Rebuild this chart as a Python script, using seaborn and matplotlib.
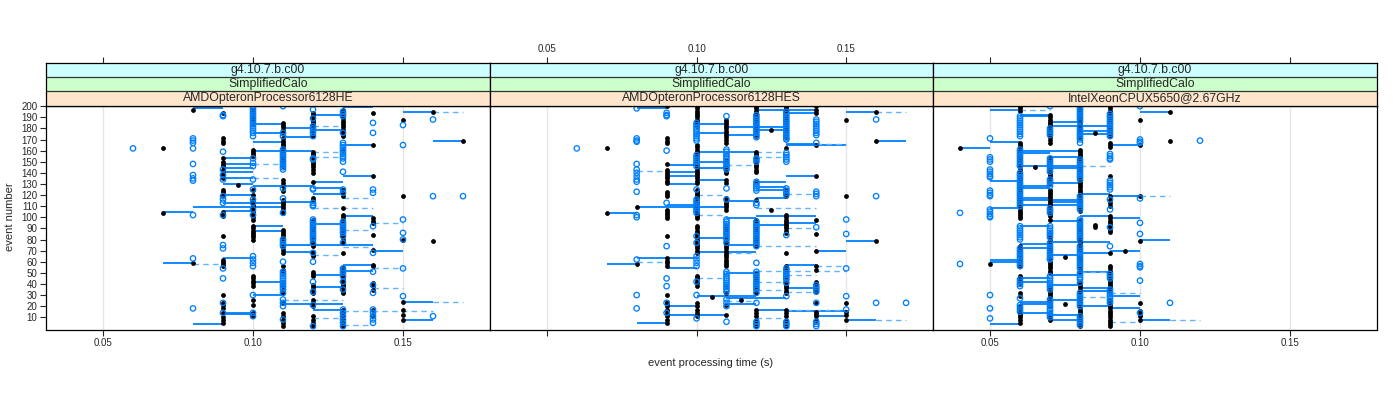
import matplotlib
matplotlib.use("Agg")
import pandas as pd
import matplotlib.pyplot as plt
import seaborn as sns

# strip labels (outer to inner)
version = "g4.10.7.b.c00"
test_name = "SimplifiedCalo"
cpus = ["AMDOpteronProcessor6128HE", "AMDOpteronProcessor6128HES", "IntelXeonCPUX5650@2.67GHz"]

x_ticks = [0.05, 0.10, 0.15]
y_ticks = [10, 20, 30, 40, 50, 60, 70, 80, 90, 100, 110, 120, 130, 140, 150, 160, 170, 180, 190, 200]

### values: time (1/100 s) -> event numbers ###
p1_black = {
    7: [162, 104],
    8: [197, 59],
    9: [194, 171, 169, 167, 153, 150, 148, 146, 143, 141, 139, 137, 135, 125, 123, 120, 105, 103, 101, 83,
        62, 60, 58, 56, 30, 23, 21, 18, 14, 10, 8, 5],
    9.5: [129],
    10: [197, 195, 192, 190, 188, 184, 161, 159, 157, 155, 125, 120, 116, 114, 112, 110, 108, 106, 104, 102,
         100, 98, 92, 90, 88, 86, 84, 82, 80, 47, 45, 43, 41, 38, 26, 21, 14, 11],
    11: [185, 183, 181, 179, 176, 171, 169, 167, 165, 163, 161, 159, 157, 155, 153, 151, 149, 146, 134, 131,
         128, 124, 116, 114, 112, 110, 108, 106, 104, 89, 87, 85, 83, 81, 79, 77, 75, 73, 71, 68, 56, 53, 50,
         41, 38, 35, 32, 23, 14, 11, 8, 5, 2],
    12: [194, 192, 190, 188, 186, 184, 182, 180, 178, 176, 173, 159, 157, 155, 153, 151, 149, 147, 145, 143,
         140, 132, 117, 116, 98, 96, 94, 92, 90, 88, 86, 84, 82, 80, 78, 76, 74, 69, 67, 65, 51, 49, 47, 39,
         37, 35, 32, 26, 23, 20, 11, 8, 5, 2],
    13: [197, 195, 193, 191, 189, 187, 185, 183, 181, 179, 177, 175, 173, 161, 125, 122, 119, 108, 102, 100,
         98, 96, 94, 92, 90, 88, 86, 84, 82, 80, 77, 68, 54, 52, 50, 48, 46, 44, 42, 40, 38, 36, 34, 32, 17,
         14, 11, 8, 5, 2],
    14: [194, 165, 137, 99, 97, 95, 84, 71, 57, 56, 41, 38, 35, 17, 11],
    15: [188, 119, 80, 24, 17, 12, 8],
    16: [195, 79],
    17: [169],
}
p1_blue = {
    6: [162],
    8: [171, 169, 167, 162, 148, 138, 135, 133, 102, 63, 18],
    9: [192, 191, 159, 143, 138, 134, 119, 116, 113, 102, 75, 72, 54, 45, 23, 14],
    10: [200, 198, 196, 194, 192, 190, 188, 186, 184, 182, 180, 178, 176, 173, 153, 149, 146, 134, 125, 116,
         113, 107, 102, 65, 62, 59, 56, 30, 14, 11],
    11: [200, 176, 173, 161, 159, 157, 155, 153, 151, 149, 147, 145, 143, 126, 117, 104, 80, 78, 76, 74, 60,
         51, 49, 47, 45, 43, 41, 39, 37, 35, 32, 26, 23, 20, 8],
    12: [197, 189, 182, 180, 178, 176, 173, 153, 152, 126, 125, 113, 111, 110, 98, 96, 94, 92, 90, 88, 86,
         84, 82, 80, 77, 68, 60, 42, 33, 21, 2],
    13: [195, 193, 191, 176, 167, 165, 163, 161, 159, 157, 155, 153, 150, 141, 125, 122, 96, 94, 92, 90, 88,
         86, 83, 77, 54, 52, 50, 47, 42, 35, 17, 14, 11, 8, 5, 2],
    14: [185, 176, 125, 122, 92, 68, 51, 39, 32, 17, 14, 11, 8, 5],
    15: [183, 165, 98, 86, 80, 54, 29],
    16: [188, 119, 11],
    17: [119],
}
# (event, from, to) in 1/100 s
p1_solid = [(199, 13, 14), (198, 8, 9), (195, 15, 16), (192, 12, 13), (184, 10, 11), (180, 11, 12),
            (179, 12, 13), (176, 10, 11), (172, 11, 12), (169, 16, 17), (168, 10, 11), (165, 13, 14),
            (160, 10, 12), (153, 9, 10), (148, 9, 10), (144, 9, 10), (141, 9, 10), (137, 13, 14),
            (135, 9, 10), (132, 12, 13), (130, 9, 10), (128, 10, 12), (126, 12, 13), (121, 12, 13),
            (120, 9, 10), (114, 11, 12), (113, 9, 11), (109, 8, 11), (106, 9, 10), (105, 7, 8),
            (101, 13, 14), (94, 12, 13), (92, 10, 11), (88, 10, 11), (75, 11, 14), (70, 14, 15),
            (69, 11, 12), (63, 9, 10), (59, 7, 8), (57, 13, 14), (52, 13, 14), (48, 12, 13), (42, 10, 11),
            (37, 12, 13), (30, 10, 11), (24, 15, 16), (22, 11, 13), (17, 12, 13), (14, 9, 10), (13, 9, 10),
            (8, 15, 16), (4, 8, 9)]
p1_dashed = [(195, 16, 17), (182, 12, 13), (159, 12, 13), (154, 12, 13), (148, 10, 11), (135, 10, 11),
             (117, 13, 14), (108, 12, 14), (95, 14, 15), (89, 13, 14), (73, 13, 14), (66, 12, 13), (58, 8, 9),
             (54, 14, 15), (36, 14, 15), (26, 11, 13), (24, 16, 17), (16, 13, 16), (9, 12, 13), (3, 13, 14)]

p2_black = {
    7: [162, 104],
    8: [109, 58],
    9: [200, 171, 169, 167, 148, 143, 141, 139, 137, 135, 133, 131, 123, 121, 119, 107, 105, 103, 101, 99,
        83, 63, 61, 59, 56, 30, 24, 22, 20, 17, 14, 11, 8, 5],
    10: [200, 198, 196, 194, 192, 190, 188, 186, 184, 182, 165, 163, 161, 159, 157, 155, 153, 151, 149, 147,
         145, 143, 141, 139, 137, 135, 133, 131, 125, 123, 121, 119, 117, 115, 113, 111, 109, 107, 105, 103,
         101, 99, 92, 90, 88, 86, 84, 82, 80, 78, 76, 74, 72, 70, 68, 47, 45, 43, 41, 38, 23, 20, 17, 14, 11],
    10.5: [28],
    11: [188, 186, 184, 182, 180, 178, 176, 174, 172, 170, 167, 152, 150, 148, 146, 144, 142, 140, 134, 131,
         117, 115, 113, 111, 109, 107, 92, 90, 88, 86, 84, 82, 80, 78, 76, 74, 72, 70, 68, 66, 64, 62, 60,
         58, 56, 38, 32, 21, 12],
    11.5: [26],
    12: [200, 198, 196, 194, 192, 190, 188, 186, 184, 182, 180, 178, 176, 173, 159, 157, 155, 153, 151, 149,
         147, 145, 143, 141, 132, 116, 98, 96, 94, 92, 90, 88, 86, 84, 82, 80, 78, 76, 74, 50, 48, 46, 44,
         42, 40, 38, 36, 34, 32, 17, 14, 11, 8, 5, 2],
    12.5: [179, 107],
    13: [200, 198, 196, 194, 192, 190, 188, 186, 184, 182, 180, 178, 176, 174, 172, 162, 125, 123, 121, 119,
         102, 100, 98, 96, 94, 92, 90, 88, 86, 68, 56, 54, 52, 50, 48, 46, 44, 42, 40, 38, 36, 34, 32, 17,
         14, 11, 8, 5, 2],
    14: [200, 197, 194, 165, 137, 98, 85, 70, 56, 53, 42, 40, 38, 36, 34, 23, 15, 13, 11, 8],
    15: [188, 119, 23, 15, 12, 8],
    16: [195, 169, 79],
}
p2_blue = {
    6: [162],
    8: [198, 171, 169, 168, 148, 143, 140, 137, 134, 132, 123, 102, 100, 62, 30, 18],
    9: [194, 192, 191, 160, 113, 74, 45, 38, 23, 14],
    10: [185, 183, 181, 179, 177, 175, 173, 171, 169, 156, 154, 152, 150, 148, 146, 125, 116, 114, 112, 110,
         108, 106, 104, 83, 77, 65, 62, 59, 56, 42, 30, 9],
    11: [191, 161, 159, 157, 155, 153, 151, 149, 147, 145, 143, 126, 116, 98, 96, 94, 92, 90, 88, 86, 84,
         82, 80, 77, 51, 49, 47, 45, 43, 41, 39, 37, 35, 33, 26, 23, 20, 6],
    12: [192, 190, 188, 186, 184, 182, 180, 178, 176, 174, 172, 153, 152, 150, 132, 130, 128, 126, 124, 113,
         111, 96, 94, 92, 90, 88, 86, 84, 82, 80, 78, 76, 74, 59, 51, 49, 47, 45, 43, 41, 39, 37, 35, 32,
         23, 6, 4, 2],
    13: [195, 193, 191, 189, 187, 185, 183, 181, 179, 177, 175, 173, 171, 170, 158, 156, 154, 152, 150, 126,
         124, 122, 120, 84, 54, 52, 50, 48, 46, 44, 41, 29, 6, 4, 2],
    14: [188, 186, 184, 182, 180, 178, 176, 174, 167, 123, 121, 119, 91, 39, 37, 35, 33, 23, 6, 4, 2],
    15: [98, 85, 54, 29, 17],
    16: [188, 119, 23],
    17: [23],
}
p2_solid = [(198, 8, 9), (197, 12, 14), (195, 15, 16), (194, 13, 14), (184, 10, 11), (181, 11, 13),
            (179, 12, 13), (176, 10, 11), (174, 11, 12), (169, 16, 17), (166, 13, 14), (165, 13, 15),
            (159, 10, 12), (150, 10, 11), (147, 9, 10), (144, 10, 11), (141, 9, 10), (137, 9, 10),
            (137, 13, 14), (134, 10, 11), (132, 12, 13), (130, 9, 10), (127, 12, 13), (125, 12, 13),
            (117, 12, 13), (115, 11, 12), (111, 9, 10), (109, 8, 11), (104, 7, 8), (101, 12, 14),
            (99, 11, 12), (95, 13, 14), (93, 12, 13), (81, 10, 11), (79, 15, 16), (75, 11, 12),
            (70, 14, 15), (69, 10, 12), (63, 8, 10), (58, 7, 8), (57, 13, 14), (54, 9, 10), (50, 11, 12),
            (36, 13, 14), (29, 10, 12), (27, 11, 13), (22, 11, 12), (20, 9, 10), (17, 12, 13),
            (16, 13, 15), (12, 9, 11), (11, 14, 15), (8, 15, 16), (5, 8, 9)]
p2_dashed = [(195, 16, 17), (166, 14, 15), (159, 12, 13), (154, 12, 13), (147, 11, 12), (142, 8, 9),
             (121, 13, 14), (120, 10, 11), (108, 12, 14), (102, 10, 11), (90, 13, 14), (74, 12, 14),
             (68, 11, 12), (60, 8, 9), (56, 14, 15), (52, 12, 15), (48, 13, 14), (45, 10, 11), (42, 12, 13),
             (35, 12, 13), (33, 13, 14), (25, 11, 12), (17, 13, 15), (9, 12, 13), (8, 16, 17)]

p3_black = {
    4: [162],
    5: [58],
    6: [200, 198, 196, 167, 165, 163, 161, 159, 157, 155, 153, 151, 149, 147, 145, 143, 141, 139, 137, 135,
        133, 131, 129, 127, 125, 123, 121, 119, 117, 115, 113, 111, 109, 107, 105, 103, 101, 99, 74, 72, 70,
        68, 66, 62, 60, 58, 56, 47, 45, 43, 41, 32, 29, 20, 18, 16, 14, 12, 10, 8, 5],
    6.5: [145],
    7: [192, 190, 188, 186, 184, 182, 180, 178, 176, 174, 172, 170, 167, 153, 151, 149, 147, 145, 143, 141,
        139, 137, 135, 133, 131, 125, 123, 121, 119, 117, 115, 113, 111, 109, 107, 105, 103, 101, 98, 86, 84,
        82, 80, 78, 76, 74, 72, 70, 68, 66, 64, 62, 60, 58, 56, 54, 52, 50, 38, 36, 34, 32, 30, 28, 26, 24,
        22, 20, 14, 12, 10, 8],
    7.5: [64, 22],
    8: [200, 198, 196, 194, 192, 190, 188, 186, 184, 182, 180, 178, 176, 174, 172, 161, 159, 157, 155, 153,
        151, 149, 147, 145, 143, 141, 139, 137, 135, 133, 131, 129, 127, 125, 123, 121, 119, 116, 114, 112,
        110, 108, 106, 98, 96, 94, 92, 90, 88, 86, 84, 82, 80, 78, 76, 74, 71, 65, 63, 61, 59, 57, 55, 53,
        50, 41, 39, 37, 35, 33, 31, 29, 27, 25, 23, 21, 19, 17, 15, 13, 11, 9, 7, 5, 2],
    8.5: [176, 93, 91],
    9: [200, 198, 196, 194, 192, 190, 188, 186, 184, 182, 180, 178, 176, 173, 167, 165, 163, 137, 119, 116,
        113, 110, 101, 99, 97, 95, 93, 91, 89, 87, 68, 56, 54, 52, 50, 48, 46, 44, 42, 40, 38, 36, 34, 32,
        26, 24, 22, 20, 18, 16, 14, 12, 10, 8, 6, 4, 2],
    9.5: [70],
    10: [188, 165, 119, 79, 23, 16, 13, 11, 8],
    11: [195, 169],
}
p3_blue = {
    4: [104, 58],
    5: [171, 154, 152, 150, 143, 141, 139, 137, 136, 124, 122, 120, 119, 107, 105, 103, 101, 100, 30, 18, 9],
    6: [191, 189, 187, 185, 183, 181, 179, 177, 175, 173, 161, 159, 157, 155, 153, 151, 149, 147, 146, 140,
        138, 136, 134, 132, 130, 128, 126, 124, 122, 120, 118, 116, 114, 112, 110, 92, 90, 88, 86, 84, 82,
        80, 72, 70, 68, 66, 64, 62, 60, 58, 56, 44, 42, 40, 38, 27, 21, 19, 17, 15],
    7: [200, 180, 178, 176, 174, 153, 151, 149, 147, 145, 143, 141, 134, 132, 130, 128, 108, 106, 104, 92,
        90, 88, 86, 84, 82, 77, 75, 73, 71, 69, 67, 65, 63, 62, 47, 45, 43, 41, 39, 37, 35, 26, 24, 22, 20,
        18, 16, 14, 12, 10],
    8: [200, 198, 196, 194, 192, 190, 188, 186, 182, 180, 178, 176, 174, 172, 170, 167, 152, 150, 148, 146,
        144, 142, 140, 138, 136, 134, 119, 117, 115, 113, 111, 109, 107, 98, 96, 94, 92, 90, 88, 86, 84, 82,
        80, 74, 72, 70, 68, 66, 64, 62, 60, 58, 56, 54, 50, 48, 46, 44, 41, 32, 30, 28, 26, 24, 22, 20, 11,
        9, 7, 5, 3],
    9: [193, 191, 189, 187, 185, 183, 181, 179, 177, 175, 173, 157, 155, 153, 152, 133, 131, 129, 127, 125,
        116, 107, 91, 74, 49, 47, 45, 35, 33, 31, 29, 27, 25, 23],
    10: [200, 170, 168, 167, 117, 95, 85, 58, 56, 55, 43, 14],
    11: [23],
    12: [169],
}
p3_solid = [(197, 5, 6), (195, 10, 11), (192, 6, 7), (191, 6, 7), (186, 7, 8), (182, 7, 8), (182, 8, 9),
            (178, 8, 9), (175, 8, 9), (168, 5, 6), (165, 9, 10), (162, 4, 5), (160, 6, 8), (158, 6, 7),
            (154, 7, 8), (146, 6, 8), (144, 7, 8), (133, 5, 6), (131, 7, 8), (128, 6, 7), (126, 6, 7),
            (121, 8, 9), (119, 9, 10), (117, 6, 7), (116, 6, 8), (114, 7, 8), (111, 6, 8), (108, 5, 6),
            (101, 8, 9), (99, 9, 10), (97, 7, 8), (92, 6, 7), (80, 10, 11), (78, 7, 9), (76, 6, 7),
            (72, 6, 7), (70, 9, 10), (68, 8, 9), (66, 7, 8), (62, 5, 6), (60, 5, 6), (51, 8, 9), (48, 7, 8),
            (45, 6, 7), (42, 6, 7), (39, 7, 8), (36, 8, 9), (34, 8, 9), (29, 9, 10), (26, 7, 8), (24, 6, 7),
            (22, 6, 7), (20, 8, 9), (18, 9, 10), (14, 6, 7), (12, 7, 8), (8, 7, 8), (8, 10, 11), (4, 5, 6)]
p3_dashed = [(197, 6, 7), (146, 8, 9), (119, 10, 11), (51, 8, 9), (32, 9, 10), (28, 8, 9), (8, 11, 12),
             (6, 9, 10)]


def points(d):
    rows = [(t / 100.0, ev) for t, evs in d.items() for ev in evs]
    return pd.DataFrame(rows, columns=["time", "event"])


def segs(lst):
    df = pd.DataFrame(lst, columns=["event", "x0", "x1"])
    df["x0"] = df["x0"] / 100
    df["x1"] = df["x1"] / 100
    return df


panels = [
    (p1_black, p1_blue, p1_solid, p1_dashed),
    (p2_black, p2_blue, p2_solid, p2_dashed),
    (p3_black, p3_blue, p3_solid, p3_dashed),
]

sns.set_style("white")
plt.rcParams['font.family'] = ['Liberation Sans', 'DejaVu Sans']

W, H = 1400, 400
fig = plt.figure(figsize=(14, 4), dpi=100)
lefts = [46, 490, 933]
rights = [490, 933, 1377]
plot_top, plot_bot, strip_top = 105.5, 329.5, 63
strip_cols = ["#ffe5cc", "#ccffcc", "#ccffff"]
xlim = (0.031, 0.179)
tick_len = 4.3

for i, (blk, blu, sol, dsh) in enumerate(panels):
    l = lefts[i] / W
    w = (rights[i] - lefts[i]) / W
    ax = fig.add_axes([l, 1 - plot_bot / H, w, (plot_bot - plot_top) / H])
    sax = fig.add_axes([l, 1 - plot_top / H, w, (plot_top - strip_top) / H])

    ax.grid(False)
    for xt in x_ticks:
        ax.axvline(xt, color="#e6e6e6", lw=1, zorder=0)

    s = segs(sol)
    ax.hlines(s.event, s.x0, s.x1, color="#0080ff", lw=1.3, zorder=2)
    d = segs(dsh)
    ax.hlines(d.event, d.x0, d.x1, color="#66b3ff", lw=1.0, linestyles=(0, (4, 3)), zorder=2)

    sns.scatterplot(data=points(blk), x="time", y="event", ax=ax, color="black", s=12,
                    linewidth=0, legend=False, zorder=3)
    sns.scatterplot(data=points(blu), x="time", y="event", ax=ax, facecolor="none",
                    edgecolor="#0080ff", s=15, linewidth=0.95, legend=False, zorder=4)

    ax.set_xlim(*xlim)
    ax.set_ylim(-1, 200.6)
    ax.set_xlabel("")
    ax.set_ylabel("")
    ax.set_xticks(x_ticks)
    ax.set_xticklabels(["%.2f" % t for t in x_ticks])
    ax.set_yticks(y_ticks)
    ax.tick_params(axis="x", which="both", bottom=True, top=False, direction="out", length=tick_len,
                   width=0.8, labelsize=7, labelbottom=(i != 1), pad=2)
    ax.tick_params(axis="y", left=(i == 0), right=False, direction="out", length=tick_len, width=0.8,
                   labelsize=7, labelleft=(i == 0), pad=2)
    for sp in ax.spines.values():
        sp.set_color("black")
        sp.set_linewidth(0.9)

    # strips
    sax.set_xlim(*xlim)
    sax.set_ylim(0, 3)
    for k, c in enumerate(strip_cols):
        sax.axhspan(k, k + 1, color=c, zorder=0)
    sax.axhline(1, color="#333333", lw=0.9)
    sax.axhline(2, color="#333333", lw=0.9)
    for k, txt in enumerate([cpus[i], test_name, version]):
        sax.text(0.5, (k + 0.5) / 3, txt, transform=sax.transAxes, ha="center", va="center", fontsize=8.8)
    sax.set_yticks([])
    sax.set_xticks(x_ticks)
    sax.set_xticklabels(["%.2f" % t for t in x_ticks])
    sax.tick_params(axis="x", bottom=False, top=True, labelbottom=False, labeltop=(i == 1),
                    direction="out", length=tick_len, width=0.8, labelsize=7, pad=2)
    for sp in sax.spines.values():
        sp.set_color("black")
        sp.set_linewidth(0.9)

fig.text(711 / W, 1 - 363 / H, "event processing time (s)", ha="center", va="center", fontsize=8)
fig.text(10 / W, 1 - 217 / H, "event number", ha="center", va="center", rotation=90, fontsize=8)

fig.savefig("out.png", dpi=100)
